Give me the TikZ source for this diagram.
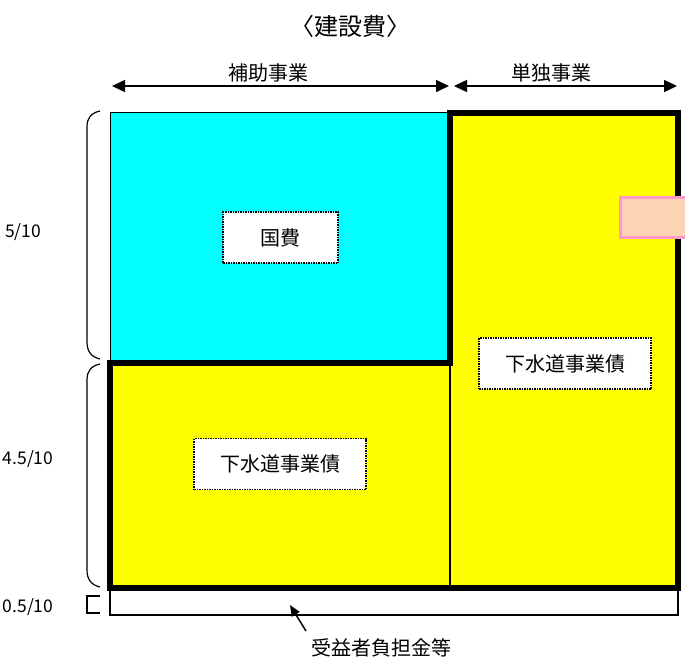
\documentclass[tikz,border=0pt]{standalone}
\usepackage{fontspec}
\setmainfont{Noto Sans CJK JP}
\usetikzlibrary{arrows.meta}
\definecolor{kokuhi}{RGB}{0,255,255}
\definecolor{kisai}{RGB}{255,255,0}
\definecolor{peach}{RGB}{251,212,180}
\definecolor{pinkline}{RGB}{255,153,204}
\tikzset{
  namebox/.style={draw, fill=white, line width=1.4pt, dash pattern=on 1.5pt off 1pt,
    minimum height=51pt, inner sep=0pt, font=\fontsize{20}{24}\selectfont},
  dimtext/.style={font=\fontsize{20}{24}\selectfont},
  ratiotext/.style={font=\fontsize{17.5}{22}\selectfont},
  dimarrow/.style={{Triangle[length=13pt,width=12pt]}-{Triangle[length=13pt,width=12pt]}, line width=1.5pt},
  thickline/.style={line width=6pt, line join=miter},
  paren/.style={line width=1.2pt},
}

\begin{document}
\begin{tikzpicture}[x=1pt,y=-1pt]
		%%%%% START %%%%%
		\useasboundingbox (0,0) rectangle (685,667);
		\clip (0,0) rectangle (685,667);
		
		\node[font=\fontsize{24}{28}\selectfont] (title) at (350,26) {〈建設費〉};
		
		% dimension arrows
		\coordinate (hojoL) at (112,86);
		\coordinate (hojoR) at (449,86);
		\coordinate (tandokuL) at (454,86);
		\coordinate (tandokuR) at (677,86);
		\draw[dimarrow] (hojoL) -- (hojoR);
		\draw[dimarrow] (tandokuL) -- (tandokuR);
		\node[dimtext] (hojo) at (268,73) {補助事業};
		\node[dimtext] (tandoku) at (551,73) {単独事業};
		
		% blocks
		\draw[fill=kokuhi, line width=1pt] (110,112) rectangle (450,362);
		\fill[kisai] (110,363) rectangle (450,588);
		\fill[kisai] (450,113) rectangle (678,588);
		\draw[line width=1.5pt] (450,363) -- (450,588);
		\draw[thickline] (450,113) -- (678,113) -- (678,588) -- (110,588) -- (110,363) -- (450,363) -- cycle;
		\draw[pinkline, fill=peach, line width=3pt] (620,197.5) rectangle (700,237.5);
		
		\node[namebox, minimum width=115pt] (kokuhiBox) at (280.5,237.5) {国費};
		\node[namebox, minimum width=172pt] (kisaiR) at (565,363.5) {下水道事業債};
		\node[namebox, minimum width=172pt] (kisaiL) at (280,464) {下水道事業債};
		
		% bottom share
		\draw[line width=1.5pt] (110,591) -- (110,615) -- (678,615) -- (678,591);
		
		% left parens
		\draw[paren] (100,111) .. controls (91,113) and (87,118) .. (87,127) -- (87,342) .. controls (87,351) and (91,357) .. (100,359);
		\draw[paren] (100,364) .. controls (91,366) and (87,371) .. (87,380) -- (87,570) .. controls (87,579) and (91,585) .. (100,587);
		\draw[paren] (100,596) -- (87,596) -- (87,613) -- (100,613);
		
		\node[ratiotext] (r5) at (23,232) {5/10};
		\node[ratiotext] (r45) at (28,459) {4.5/10};
		\node[ratiotext] (r05) at (28,607) {0.5/10};
		
		% beneficiary charge
		\node[dimtext] (futan) at (381,648) {受益者負担金等};
		\coordinate (futanTail) at (306,631);
		\coordinate (futanTip) at (290,605);
		\draw[-{Triangle[length=11pt,width=9pt]}, line width=1.5pt] (futanTail) -- (futanTip);
		
		%%%%% END %%%%%
\end{tikzpicture}
\end{document}
